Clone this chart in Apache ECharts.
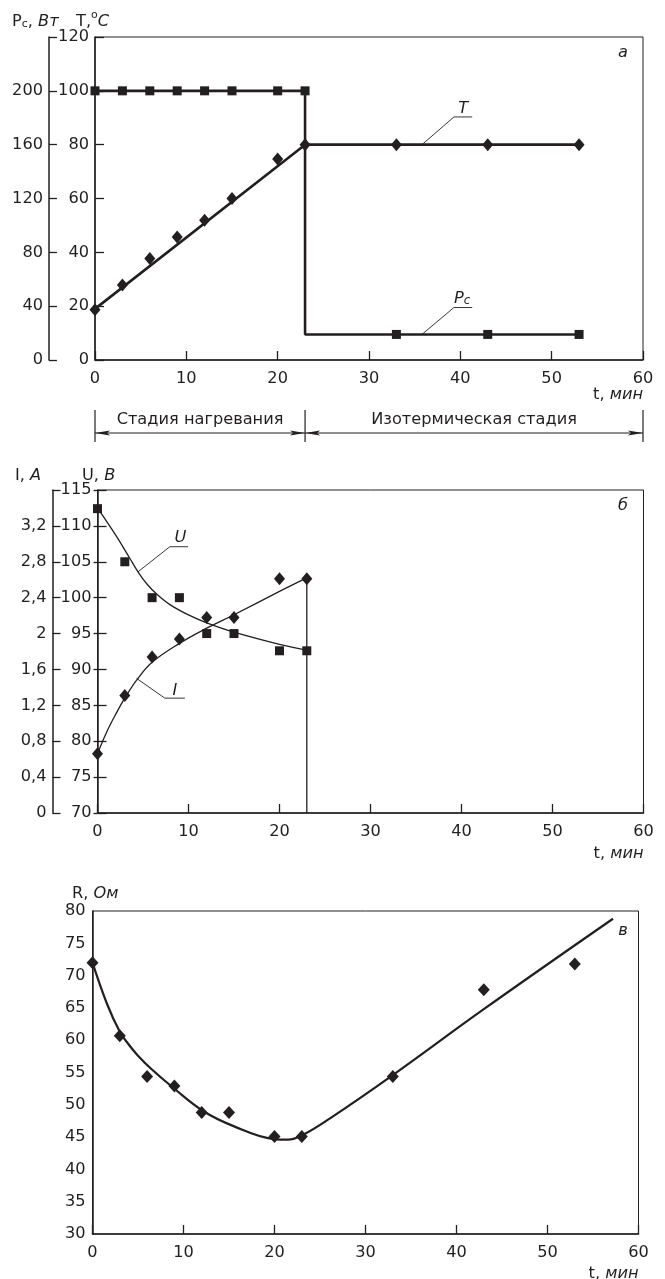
<!DOCTYPE html>
<html><head><meta charset="utf-8">
<script src="https://cdn.jsdelivr.net/npm/echarts@6/dist/echarts.min.js"></script>
<style>html,body{margin:0;padding:0;background:#fff}#c{width:665px;height:1279px}</style>
</head><body><div id="c"></div>
<script>
// ---------- Chart а : power Pc and temperature T ----------
const tA      = [0, 3, 6, 9, 12, 15, 20, 23, 33, 43, 53];
const PcA     = [200, 200, 200, 200, 200, 200, 200, 200, 19, 19, 19];
const TA      = [18.7, 27.9, 37.7, 45.7, 51.9, 60, 74.7, 80, 80, 80, 80];
const PcLineT = [0, 23, 23, 53];
const PcLineV = [200, 200, 19, 19];
const TLineT  = [0, 23, 53];
const TLineV  = [19, 80, 80];

// ---------- Chart б : current I and voltage U ----------
const tB    = [0, 3, 6, 9, 12, 15, 20, 23];
const UB    = [112.4, 105, 100, 100, 95, 95, 92.6, 92.6];
const IB    = [0.66, 1.31, 1.74, 1.94, 2.18, 2.18, 2.61, 2.61];
const UfitT = [0, 2, 3.5, 4.5, 5.5, 6.5, 8, 10, 12, 15, 20, 23];
const UfitV = [112.5, 108.7, 105.6, 103.5, 101.8, 100.5, 99.0, 97.6, 96.5, 95.2, 93.5, 92.7];
const IfitT = [0, 1, 2, 3, 4.3, 6, 9, 12, 15, 20, 23];
const IfitV = [0.66, 0.9, 1.1, 1.28, 1.48, 1.68, 1.89, 2.06, 2.21, 2.47, 2.62];
const IdropT = [23, 23];
const IdropV = [2.62, 0];

// ---------- Chart в : resistance R ----------
const tR    = [0, 3, 6, 9, 12, 15, 20, 23, 33, 43, 53];
const RV    = [72, 60.7, 54.4, 52.9, 48.8, 48.8, 45.1, 45.1, 54.4, 67.8, 71.8];
const RfitT = [0, 1.6, 3, 4, 5, 6.5, 8.9, 12.2, 15.5, 19.9, 21.5, 23.2, 26.1, 33, 43, 57.2];
const RfitV = [72, 65.6, 61.3, 59.3, 57.6, 55.5, 52.6, 49.0, 46.7, 44.7, 44.6, 45.4, 47.9, 54.6, 64.8, 78.8];

// tick labels
const xTicks = [0, 10, 20, 30, 40, 50, 60];

const INK = '#231f20';
const FONT = '"DejaVu Sans", "Liberation Sans", Arial, sans-serif';
const FS = 16.2;
const zip = (a, b) => a.map((v, i) => [v, b[i]]);

const chart = echarts.init(document.getElementById('c'), null, {renderer: 'canvas'});

const gridBox = {show: true, borderColor: INK, borderWidth: 1, backgroundColor: 'transparent', containLabel: false};
const grids = [
  Object.assign({left: 95, top: 37, width: 548, height: 323}, gridBox),
  Object.assign({left: 97.5, top: 490, width: 546, height: 323}, gridBox),
  Object.assign({left: 92.5, top: 911, width: 546, height: 323}, gridBox)
];

function xAx(gi) {
  return {
    type: 'value', gridIndex: gi, min: xTicks[0], max: xTicks[xTicks.length - 1], interval: 10,
    axisLine: {show: true, onZero: false, lineStyle: {color: INK, width: 1.5}},
    axisTick: {show: true, inside: true, length: 9, lineStyle: {color: INK, width: 1.3}},
    axisLabel: {color: INK, fontSize: FS, fontFamily: FONT, margin: 11},
    splitLine: {show: false}
  };
}
function yAx(gi, min, max, interval, extra) {
  return Object.assign({
    type: 'value', gridIndex: gi, min: min, max: max, interval: interval, position: 'left',
    axisLine: {show: true, onZero: false, lineStyle: {color: INK, width: 1.5}},
    axisTick: {show: true, inside: true, length: 9, lineStyle: {color: INK, width: 1.3}},
    axisLabel: {color: INK, fontSize: FS, fontFamily: FONT, margin: 6},
    splitLine: {show: false}
  }, extra || {});
}

const yAxes = [
  // 0: T (grid а inner)
  yAx(0, 0, 120, 20),
  // 1: Pc (grid а outer)
  yAx(0, 0, 240, 40, {offset: 46, axisTick: {show: true, inside: true, length: 8, lineStyle: {color: INK, width: 1.3}},
    axisLabel: {color: INK, fontSize: FS, fontFamily: FONT, margin: 6, formatter: v => v > 220 ? '' : String(v)}}),
  // 2: U (grid б inner)
  yAx(1, 70, 115, 5),
  // 3: I (grid б outer)
  yAx(1, 0, 3.6, 0.4, {offset: 45, axisTick: {show: true, inside: true, length: 8, lineStyle: {color: INK, width: 1.3}},
    axisLabel: {color: INK, fontSize: FS, fontFamily: FONT, margin: 6,
      formatter: v => v > 3.4 ? '' : String(+v.toFixed(1)).replace('.', ',')}}),
  // 4: U outside tick stubs
  yAx(1, 70, 115, 5, {axisLine: {show: false}, axisLabel: {show: false},
    axisTick: {show: true, inside: false, length: 4, lineStyle: {color: INK, width: 1.3}}}),
  // 5: R (grid в)
  yAx(2, 30, 80, 5, {axisTick: {show: false}, axisLabel: {color: INK, fontSize: FS, fontFamily: FONT, margin: 7}})
];

function lineS(xi, yi, data, width, smooth) {
  return {type: 'line', xAxisIndex: xi, yAxisIndex: yi, data: data, symbol: 'none', smooth: smooth || false,
    lineStyle: {color: INK, width: width}, silent: true, z: 2, animation: false};
}
function markS(xi, yi, data, symbol, size) {
  return {type: 'scatter', xAxisIndex: xi, yAxisIndex: yi, data: data, symbol: symbol, symbolSize: size,
    itemStyle: {color: INK, opacity: 1}, silent: true, z: 3, animation: false};
}

// leader lines for curve labels (data coordinates)
const leadT  = [[35.8, 80], [39.3, 90.3], [41.3, 90.3]];
const leadPc = [[35.8, 19], [39.3, 39], [41.3, 39]];
const leadU  = [[4.45, 103.6], [7.95, 107.1], [9.95, 107.1]];
const leadI  = [[4.3, 1.5], [7.4, 1.28], [9.6, 1.28]];

const series = [
  // а
  lineS(0, 1, zip(PcLineT, PcLineV), 2.6),
  lineS(0, 0, zip(TLineT, TLineV), 2.6),
  markS(0, 1, zip(tA, PcA), 'rect', 9),
  markS(0, 0, zip(tA, TA), 'diamond', [11, 13]),
  lineS(0, 0, leadT, 0.9),
  lineS(0, 1, leadPc, 0.9),
  // б
  lineS(1, 2, zip(UfitT, UfitV), 1.3, 0.4),
  lineS(1, 3, zip(IfitT, IfitV), 1.3, 0.4),
  lineS(1, 3, zip(IdropT, IdropV), 1.3),
  markS(1, 2, zip(tB, UB), 'rect', 9),
  markS(1, 3, zip(tB, IB), 'diamond', [11, 13]),
  lineS(1, 2, leadU, 0.9),
  lineS(1, 3, leadI, 0.9),
  // в
  lineS(2, 5, zip(RfitT, RfitV), 2.2, 0.4),
  markS(2, 5, zip(tR, RV), 'diamond', [12, 13])
];

chart.setOption({
  animation: false,
  backgroundColor: '#fff',
  grid: grids,
  xAxis: [xAx(0), xAx(1), xAx(2)],
  yAxis: yAxes,
  series: series
});

// ---------- text & annotations ----------
const rich = {
  r:   {fontSize: FS, fontFamily: FONT, fill: INK, lineHeight: 20, verticalAlign: 'bottom'},
  i:   {fontSize: FS, fontFamily: FONT, fill: INK, fontStyle: 'italic', lineHeight: 20, verticalAlign: 'bottom'},
  sub: {fontSize: 11, fontFamily: FONT, fill: INK, lineHeight: 10, verticalAlign: 'bottom'},
  isub:{fontSize: 12, fontFamily: FONT, fill: INK, fontStyle: 'italic', lineHeight: 10, verticalAlign: 'bottom'},
  sup: {fontSize: 11, fontFamily: FONT, fill: INK, lineHeight: 10, verticalAlign: 'top'}
};
function txt(x, y, text, align, extra) {
  return Object.assign({
    type: 'text', x: x, y: y, silent: true, z: 10,
    style: {text: text, fill: INK, fontSize: FS, fontFamily: FONT, align: align || 'left', verticalAlign: 'middle', rich: rich}
  }, extra || {});
}
const px = (opt, pt) => chart.convertToPixel(opt, pt);

const g = [];
// axis titles
g.push(txt(12, 20, '{r|P}{sub|c}{r|, }{i|Вт}'));
g.push(txt(76, 20, '{r|T,}{sup|o}{i|C}'));
g.push(txt(15, 474, '{r|I, }{i|A}'));
g.push(txt(82, 474, '{r|U, }{i|B}'));
g.push(txt(72, 892, '{r|R, }{i|Ом}'));
// x-axis names
[[0, 393], [1, 852], [2, 1272]].forEach(([gi, y]) => {
  const xr = chart.convertToPixel({xAxisIndex: gi}, 60);
  g.push(txt(xr, y, '{r|t, }{i|мин}', 'right'));
});
// corner letters
g.push(txt(623, 51, '{i|а}', 'center'));
g.push(txt(623, 504, '{i|б}', 'center'));
g.push(txt(623, 929, '{i|в}', 'center'));
// curve labels
let p;
p = px({xAxisIndex: 0, yAxisIndex: 0}, [40.3, 94]);   g.push(txt(p[0], p[1], '{i|T}', 'center'));
p = px({xAxisIndex: 0, yAxisIndex: 1}, [40.2, 47]);   g.push(txt(p[0], p[1], '{i|P}{isub|c}', 'center'));
p = px({xAxisIndex: 1, yAxisIndex: 2}, [9.1, 108.6]); g.push(txt(p[0], p[1], '{i|U}', 'center'));
p = px({xAxisIndex: 1, yAxisIndex: 3}, [8.5, 1.385]); g.push(txt(p[0], p[1], '{i|I}', 'center'));

// stage annotation under chart а
const sx = [0, 23, 60].map(v => chart.convertToPixel({xAxisIndex: 0}, v));
const yTop = 410, yBot = 442, yArr = 433, aL = 15, aH = 2.6;
sx.forEach(x => g.push({type: 'line', silent: true, shape: {x1: x, y1: yTop, x2: x, y2: yBot}, style: {stroke: INK, lineWidth: 1.2}}));
function arrow(x1, x2) {
  g.push({type: 'line', silent: true, shape: {x1: x1, y1: yArr, x2: x2, y2: yArr}, style: {stroke: INK, lineWidth: 1}});
  g.push({type: 'polygon', silent: true, shape: {points: [[x1, yArr], [x1 + aL, yArr - aH], [x1 + aL - 3, yArr], [x1 + aL, yArr + aH]]}, style: {fill: INK}});
  g.push({type: 'polygon', silent: true, shape: {points: [[x2, yArr], [x2 - aL, yArr - aH], [x2 - aL + 3, yArr], [x2 - aL, yArr + aH]]}, style: {fill: INK}});
}
arrow(sx[0], sx[1]);
arrow(sx[1], sx[2]);
g.push(txt((sx[0] + sx[1]) / 2, 420, 'Стадия нагревания', 'center'));
g.push(txt((sx[1] + sx[2]) / 2, 420, 'Изотермическая стадия', 'center'));

chart.setOption({graphic: g});
</script>
</body></html>
